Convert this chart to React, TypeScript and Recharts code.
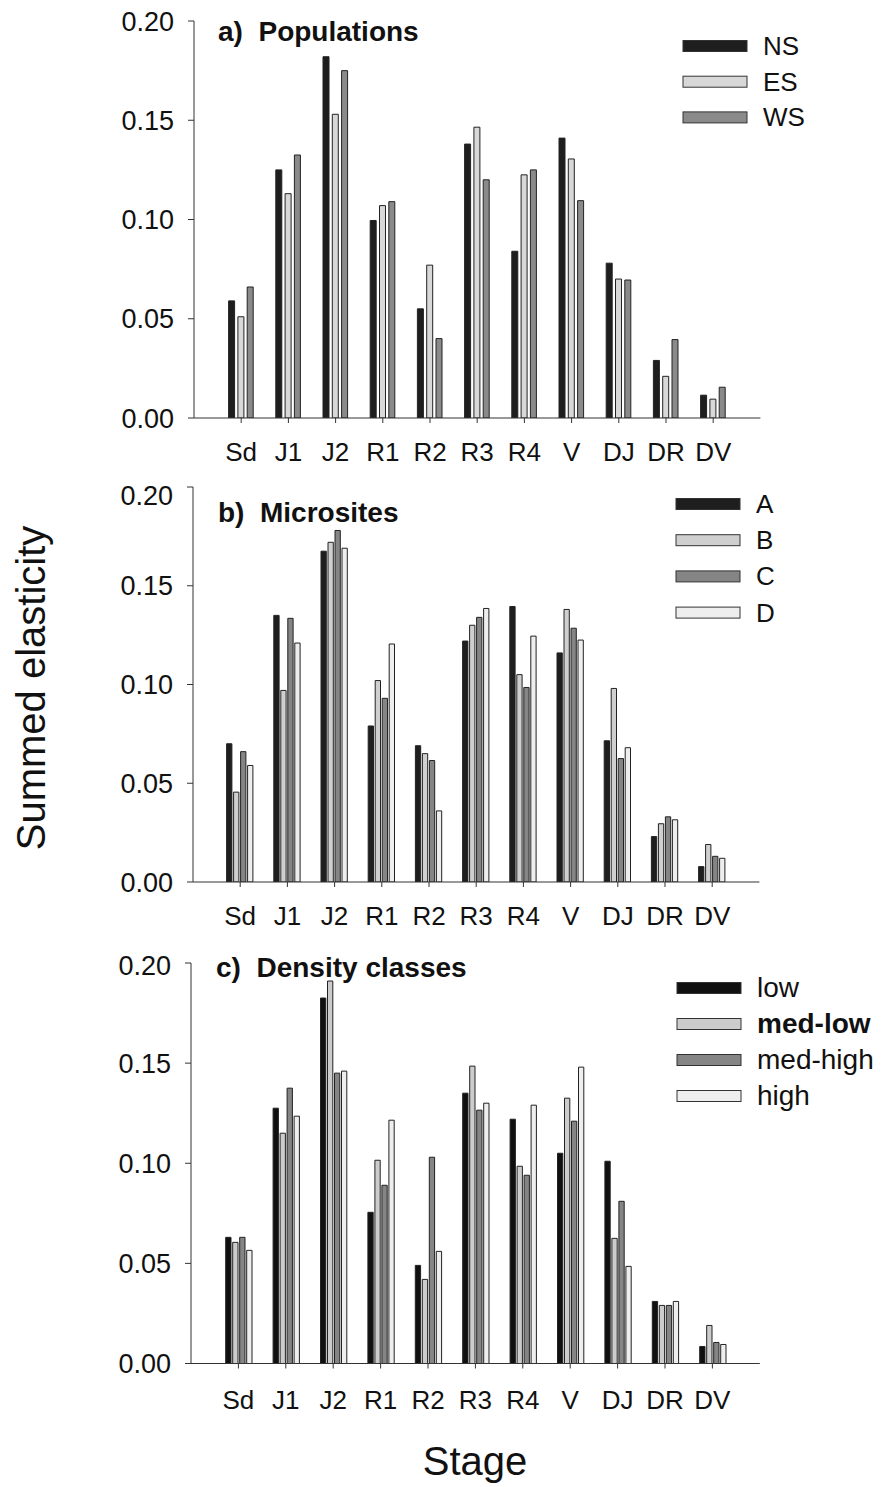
import { BarChart, Bar, XAxis, YAxis } from "recharts";

// stages on the x axis
const stages = ["Sd", "J1", "J2", "R1", "R2", "R3", "R4", "V", "DJ", "DR", "DV"];
const yTicks = [0, 0.05, 0.1, 0.15, 0.2];

// a) populations
const popNames = ["NS", "ES", "WS"];
const popNS = [0.059, 0.125, 0.182, 0.0995, 0.055, 0.138, 0.084, 0.141, 0.078, 0.029, 0.0115];
const popES = [0.051, 0.113, 0.153, 0.107, 0.077, 0.1465, 0.1225, 0.1305, 0.07, 0.021, 0.0095];
const popWS = [0.066, 0.1325, 0.175, 0.109, 0.04, 0.12, 0.125, 0.1095, 0.0695, 0.0395, 0.0155];

// b) microsites
const siteNames = ["A", "B", "C", "D"];
const siteA = [0.07, 0.135, 0.1675, 0.079, 0.069, 0.122, 0.1395, 0.116, 0.0715, 0.023, 0.0078];
const siteB = [0.0455, 0.097, 0.172, 0.102, 0.065, 0.13, 0.105, 0.138, 0.098, 0.0295, 0.019];
const siteC = [0.066, 0.1335, 0.178, 0.093, 0.0615, 0.134, 0.0985, 0.1285, 0.0625, 0.033, 0.013];
const siteD = [0.059, 0.121, 0.169, 0.1205, 0.036, 0.1385, 0.1245, 0.1225, 0.068, 0.0315, 0.012];

// c) density classes
const densNames = ["low", "med-low", "med-high", "high"];
const densLow = [0.063, 0.1275, 0.1825, 0.0755, 0.049, 0.135, 0.122, 0.105, 0.101, 0.031, 0.0085];
const densMedLow = [0.0605, 0.115, 0.191, 0.1015, 0.042, 0.1485, 0.0985, 0.1325, 0.0625, 0.029, 0.019];
const densMedHigh = [0.063, 0.1375, 0.145, 0.089, 0.103, 0.1265, 0.094, 0.121, 0.081, 0.029, 0.0105];
const densHigh = [0.0565, 0.1235, 0.146, 0.1215, 0.056, 0.13, 0.129, 0.148, 0.0485, 0.031, 0.0095];

const FONT = "'Liberation Sans', Arial, Helvetica, sans-serif";

function makeRows(names: string[], series: number[][]) {
    return stages.map((s, i) => {
        const row: any = { stage: s };
        names.forEach((n, k) => {
            row[n] = series[k][i];
        });
        return row;
    });
}

type panelProps = {
    top: number,
    height: number,
    plotTop: number,
    plotBottom: number,
    x0: number,
    step: number,
    names: string[],
    series: number[][],
    fills: string[],
    barSize: number,
    barGap: number,
    tickMargin: number,
}

function Panel(props: panelProps) {
    const W = 881;
    const yW = 60;
    const xH = 30;
    const right = props.x0 + props.step * 12;
    const data = makeRows(props.names, props.series);
    return (
        <div style={{ position: "absolute", left: 0, top: props.top }}>
            <BarChart
                width={W}
                height={props.height}
                data={data}
                barSize={props.barSize}
                barGap={props.barGap}
                margin={{
                    top: props.plotTop - props.top,
                    left: props.x0 - yW,
                    right: W - right,
                    bottom: props.top + props.height - props.plotBottom - xH,
                }}
            >
                <XAxis
                    dataKey="stage"
                    padding={{ left: props.step / 2, right: props.step / 2 }}
                    stroke="#333"
                    tickSize={5}
                    tickMargin={props.tickMargin}
                    tick={{ fill: "#111", fontSize: 26, fontFamily: FONT }}
                    interval={0}
                    height={xH}
                />
                <YAxis
                    domain={[0, 0.2]}
                    ticks={yTicks}
                    tickFormatter={(v: number) => v.toFixed(2)}
                    stroke="#333"
                    tickSize={6}
                    tickMargin={14}
                    tick={{ fill: "#111", fontSize: 27, fontFamily: FONT }}
                    width={yW}
                    allowDataOverflow
                />
                {props.names.map((n, k) => (
                    <Bar
                        key={n}
                        dataKey={n}
                        fill={props.fills[k]}
                        stroke="#222"
                        strokeWidth={1}
                        isAnimationActive={false}
                    />
                ))}
            </BarChart>
        </div>
    );
}

const popFills = ["#1e1e1e", "#d8d8d8", "#8a8a8a"];
const siteFills = ["#1e1e1e", "#cfcfcf", "#858585", "#eeeeee"];
const densFills = ["#101010", "#cccccc", "#858585", "#eeeeee"];

function LegendBlock(props: { x: number, y: number, gap: number, names: string[], fills: string[], size: number, bold?: string }) {
    return (
        <g>
            {props.names.map((n, i) => (
                <g key={n}>
                    <rect x={props.x} y={props.y + i * props.gap - 5.5} width={64} height={11} fill={props.fills[i]} stroke="#333" strokeWidth={1} />
                    <text
                        x={props.x + 80}
                        y={props.y + i * props.gap + 9}
                        fontSize={props.size}
                        fontFamily={FONT}
                        fontWeight={props.bold === n ? "bold" : "normal"}
                        fill="#111"
                    >
                        {n}
                    </text>
                </g>
            ))}
        </g>
    );
}

export default function App() {
    return (
        <div style={{ position: "absolute", left: 0, top: 0, width: 881, height: 1487, background: "#fff", fontFamily: FONT }}>
            <Panel
                top={0} height={480} plotTop={21} plotBottom={418}
                x0={194} step={47.2}
                names={popNames} series={[popNS, popES, popWS]} fills={popFills}
                barSize={6} barGap={3.3} tickMargin={20}
            />
            <Panel
                top={480} height={480} plotTop={487} plotBottom={882}
                x0={193} step={47.2}
                names={siteNames} series={[siteA, siteB, siteC, siteD]} fills={siteFills}
                barSize={5.3} barGap={1.7} tickMargin={20}
            />
            <Panel
                top={950} height={475} plotTop={963} plotBottom={1363.5}
                x0={191} step={47.4}
                names={densNames} series={[densLow, densMedLow, densMedHigh, densHigh]} fills={densFills}
                barSize={5.3} barGap={1.7} tickMargin={22}
            />
            <svg width={881} height={1487} style={{ position: "absolute", left: 0, top: 0, pointerEvents: "none" }}>
                <text x={218} y={41} fontSize={28} fontWeight="bold" fontFamily={FONT} fill="#111" xmlSpace="preserve">a)  Populations</text>
                <text x={218} y={522} fontSize={28} fontWeight="bold" fontFamily={FONT} fill="#111" xmlSpace="preserve">b)  Microsites</text>
                <text x={216} y={977} fontSize={28} fontWeight="bold" fontFamily={FONT} fill="#111" xmlSpace="preserve">c)  Density classes</text>
                <LegendBlock x={683} y={46} gap={35.7} names={popNames} fills={popFills} size={26} />
                <LegendBlock x={676} y={504} gap={36.2} names={siteNames} fills={siteFills} size={26} />
                <LegendBlock x={677} y={988} gap={36} names={densNames} fills={densFills} size={28} bold="med-low" />
                <text x={45} y={688} fontSize={40} fontFamily={FONT} fill="#111" textAnchor="middle" transform="rotate(-90 45 688)">Summed elasticity</text>
                <text x={475} y={1475} fontSize={40} fontFamily={FONT} fill="#111" textAnchor="middle">Stage</text>
            </svg>
        </div>
    );
}
